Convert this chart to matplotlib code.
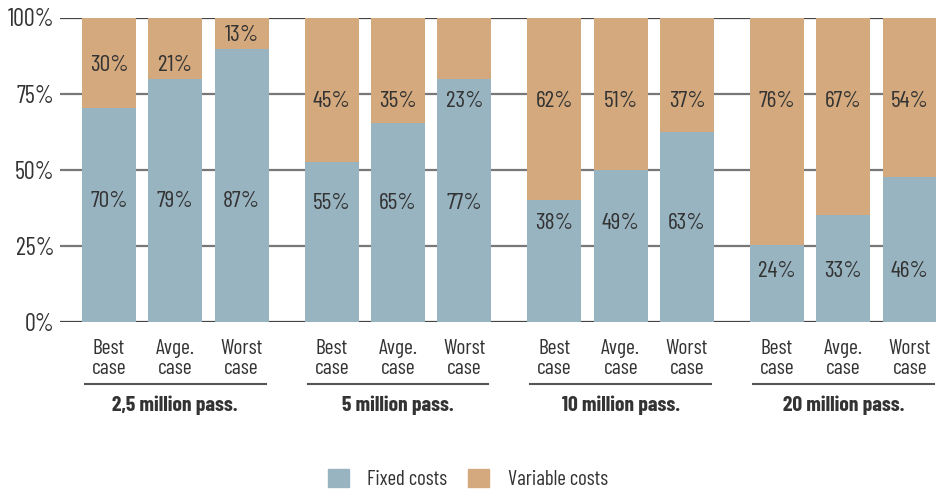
import matplotlib
matplotlib.use("Agg")
import matplotlib.pyplot as plt
from matplotlib.patches import Patch
import numpy as np

plt.rcParams['font.family'] = ['Barlow Condensed', 'DejaVu Sans']

# data
groups = ["2,5 million pass.", "5 million pass.", "10 million pass.", "20 million pass."]
cases = ["Best\ncase", "Avge.\ncase", "Worst\ncase"]
fixed_labels = [[70, 79, 87], [55, 65, 77], [38, 49, 63], [24, 33, 46]]
variable_labels = [[30, 21, 13], [45, 35, 23], [62, 51, 37], [76, 67, 54]]
# bar heights as drawn in the original (they don't quite match the labels)
fixed_heights = [[70.4, 79.8, 89.7], [52.6, 65.4, 79.8], [40.2, 49.9, 62.5], [25.3, 35.1, 47.6]]

blue = "#99b4c1"
tan = "#d4a97d"
text_col = "#333333"

# layout (x in pixel units of the figure)
first_bar = 109
bar_pitch = 66.3
group_pitch = 222.7
bar_w = 54
fixed_label_y = [39.5, 39.0, 32.4, 16.5]
var_label_y = [[84.2, 84.2, 94.1], [72.3] * 3, [72.3] * 3, [72.3] * 3]

W, H = 936, 491
fig = plt.figure(figsize=(W / 100, H / 100), dpi=100)
y0, y100 = 322, 17.5
ax = fig.add_axes([60 / W, (H - y0) / H, (W - 60) / W, (y0 - y100) / H])
ax.set_xlim(60, W)
ax.set_ylim(0, 100)

for yv in [0, 25, 50, 75, 100]:
    c = "#444444" if yv in (0, 100) else "#777777"
    ax.axhline(yv, color=c, lw=1.6, zorder=0)

for g in range(len(groups)):
    xs = first_bar + g * group_pitch + np.arange(3) * bar_pitch
    fh = np.array(fixed_heights[g])
    ax.bar(xs, fh, width=bar_w, color=blue, zorder=2)
    ax.bar(xs, 100 - fh, bottom=fh, width=bar_w, color=tan, zorder=2)
    for i, x in enumerate(xs):
        ax.text(x, fixed_label_y[g], f"{fixed_labels[g][i]}%", ha="center", va="center",
                fontsize=17, color=text_col, zorder=3)
        ax.text(x, var_label_y[g][i], f"{variable_labels[g][i]}%", ha="center", va="center",
                fontsize=17, color=text_col, zorder=3)
        ax.text(x, -12.0, cases[i], ha="center", va="center", fontsize=15.5,
                color=text_col, linespacing=1.07, clip_on=False)
    ax.plot([xs[0] - 24, xs[-1] + 24], [-20.2, -20.2], color="#555555", lw=1.5,
            clip_on=False)
    ax.text(xs[1], -27.5, groups[g], ha="center", va="center", fontsize=15.5,
            fontweight="bold", color=text_col, clip_on=False)

ax.set_yticks([0, 25, 50, 75, 100])
ax.set_yticklabels(["0%", "25%", "50%", "75%", "100%"], fontsize=17.5, color=text_col)
ax.tick_params(axis="y", length=0, pad=4)
ax.set_xticks([])
for s in ax.spines.values():
    s.set_visible(False)

handles = [Patch(color=blue, label="Fixed costs"), Patch(color=tan, label="Variable costs")]
fig.legend(handles=handles, loc="center", bbox_to_anchor=(0.5, (H - 479) / H), ncol=2,
           frameon=False, fontsize=15, handlelength=1.0, handleheight=0.95,
           handletextpad=0.9, columnspacing=1.0, labelcolor=text_col)

fig.savefig("out.png", dpi=100)
